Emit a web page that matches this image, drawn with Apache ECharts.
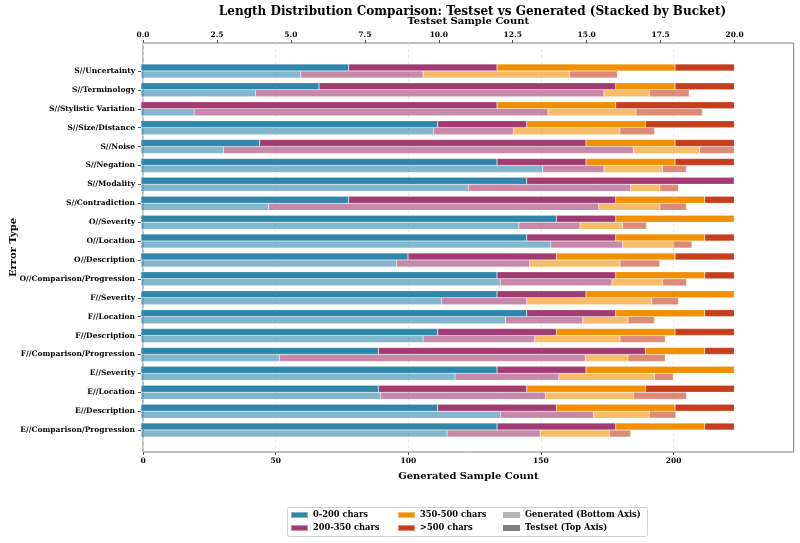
<!DOCTYPE html>
<html>
<head>
<meta charset="utf-8">
<script src="https://cdn.jsdelivr.net/npm/echarts@6/dist/echarts.min.js"></script>
<style>
  html, body { margin: 0; padding: 0; background: #fff; }
  #main { width: 800px; height: 543px; }
</style>
</head>
<body>
<div id="main"></div>
<script>
var categories = ['S//Uncertainty', 'S//Terminology', 'S//Stylistic Variation', 'S//Size/Distance',
    'S//Noise', 'S//Negation', 'S//Modality', 'S//Contradiction',
    'O//Severity', 'O//Location', 'O//Description', 'O//Comparison/Progression',
    'F//Severity', 'F//Location', 'F//Description', 'F//Comparison/Progression',
    'E//Severity', 'E//Location', 'E//Description', 'E//Comparison/Progression'];
var buckets = ['0-200 chars', '200-350 chars', '350-500 chars', '>500 chars'];

// testset counts per bucket (top axis)
var test0 = [7, 6, 0, 10, 4, 12, 13, 7, 14, 13, 9, 12, 12, 13, 10, 8, 12, 8, 10, 12];
var test1 = [5, 10, 12, 3, 11, 3, 7, 9, 2, 3, 5, 4, 3, 3, 4, 9, 3, 5, 4, 4];
var test2 = [6, 2, 4, 4, 3, 3, 0, 3, 4, 3, 4, 3, 5, 3, 4, 2, 5, 4, 4, 3];
var test3 = [2, 2, 4, 3, 2, 2, 0, 1, 0, 1, 2, 1, 0, 1, 2, 1, 0, 3, 2, 1];

// generated counts per bucket (bottom axis)
var gen0 = [60, 43, 20, 110, 31, 151, 123, 48, 142, 154, 96, 135, 113, 137, 106, 52, 118, 90, 135, 115];
var gen1 = [46, 131, 133, 30, 154, 23, 61, 124, 23, 27, 50, 42, 32, 29, 42, 115, 39, 62, 35, 35];
var gen2 = [55, 17, 33, 40, 25, 22, 11, 23, 16, 19, 34, 19, 47, 17, 32, 16, 36, 33, 21, 26];
var gen3 = [18, 15, 25, 13, 13, 9, 7, 10, 9, 7, 15, 9, 10, 10, 17, 14, 7, 20, 10, 8];

var topTicks = [0, 2.5, 5, 7.5, 10, 12.5, 15, 17.5, 20];
var bottomTicks = [0, 50, 100, 150, 200];

var testData = [test0, test1, test2, test3];
var genData = [gen0, gen1, gen2, gen3];
var colors = ['#2E86AB', '#A23B72', '#F18F01', '#C73E1D'];
var font = 'DejaVu Serif';
var topMax = 22;
var bottomMax = 245.3;

var myChart = echarts.init(document.getElementById('main'));

var series = [];
for (var i = 0; i < 4; i++) {
    series.push({
        name: buckets[i],
        type: 'bar',
        stack: 'test',
        xAxisIndex: 3,
        yAxisIndex: 1,
        barWidth: 7,
        barGap: '0%',
        itemStyle: {color: colors[i], borderColor: 'rgba(255,255,255,0.4)', borderWidth: 0.5},
        data: testData[i]
    });
}
for (var i = 0; i < 4; i++) {
    series.push({
        name: buckets[i],
        type: 'bar',
        stack: 'gen',
        xAxisIndex: 2,
        yAxisIndex: 1,
        barWidth: 7,
        barGap: '0%',
        itemStyle: {color: colors[i], opacity: 0.6, borderColor: 'rgba(255,255,255,0.4)', borderWidth: 0.5},
        data: genData[i]
    });
}
// legend-only entries
series.push({name: 'Generated (Bottom Axis)', type: 'line', xAxisIndex: 0, yAxisIndex: 0, color: '#b3b3b3', data: []});
series.push({name: 'Testset (Top Axis)', type: 'line', xAxisIndex: 0, yAxisIndex: 0, color: '#808080', data: []});

var legendBase = {
    orient: 'vertical',
    top: 510,
    padding: 0,
    icon: 'rect',
    itemWidth: 17,
    itemHeight: 6,
    itemGap: 3,
    selectedMode: false,
    textStyle: {fontFamily: font, fontWeight: 'bold', fontSize: 8.3, color: '#000', lineHeight: 10}
};

var option = {
    animation: false,
    title: {
        text: 'Length Distribution Comparison: Testset vs Generated (Stacked by Bucket)',
        left: 467.5,
        textAlign: 'center',
        top: 1,
        textStyle: {fontFamily: font, fontWeight: 'bold', fontSize: 12, color: '#000'}
    },
    graphic: [{
        type: 'rect',
        left: 287,
        top: 507,
        z: 0,
        shape: {width: 360, height: 29, r: 2},
        style: {fill: '#fff', stroke: '#d0d0d0', lineWidth: 1}
    }],
    legend: [
        Object.assign({}, legendBase, {left: 290, data: [buckets[0], buckets[1]]}),
        Object.assign({}, legendBase, {left: 397, data: [buckets[2], buckets[3]]}),
        Object.assign({}, legendBase, {left: 503, data: ['Generated (Bottom Axis)', 'Testset (Top Axis)']})
    ],
    grid: [
        {left: 141, right: 6.3, top: 43, bottom: 91, show: true, borderColor: '#808080', borderWidth: 1, containLabel: false},
        {left: 141, right: 6.3, top: 61.5, bottom: 103.5, containLabel: false}
    ],
    xAxis: [
        {
            gridIndex: 0, type: 'value', position: 'bottom', min: 0, max: bottomMax, interval: 50,
            name: 'Generated Sample Count', nameLocation: 'middle', nameGap: 19,
            nameTextStyle: {fontFamily: font, fontWeight: 'bold', fontSize: 10, color: '#000'},
            axisLine: {show: false},
            axisTick: {show: true, length: 3, lineStyle: {color: '#555'}, customValues: bottomTicks},
            axisLabel: {fontFamily: font, fontWeight: 'bold', fontSize: 7.5, color: '#000', margin: 5, customValues: bottomTicks},
            splitLine: {show: true, lineStyle: {color: '#e6e6e6', type: [3, 3], width: 0.8}}
        },
        {
            gridIndex: 0, type: 'value', position: 'top', min: 0, max: topMax, interval: 2.5,
            name: 'Testset Sample Count', nameLocation: 'middle', nameGap: 11,
            nameTextStyle: {fontFamily: font, fontWeight: 'bold', fontSize: 10, color: '#000'},
            axisLine: {show: false},
            axisTick: {show: true, length: 3, lineStyle: {color: '#555'}, customValues: topTicks},
            axisLabel: {
                fontFamily: font, fontWeight: 'bold', fontSize: 7.5, color: '#000', margin: 4,
                customValues: topTicks,
                formatter: function (v) { return v.toFixed(1); }
            },
            splitLine: {show: false}
        },
        {gridIndex: 1, type: 'value', position: 'bottom', min: 0, max: bottomMax, show: false},
        {gridIndex: 1, type: 'value', position: 'top', min: 0, max: topMax, show: false}
    ],
    yAxis: [
        {
            gridIndex: 0, type: 'value', min: 0, max: 1,
            name: 'Error Type', nameLocation: 'middle', nameGap: 125, nameRotate: 90,
            nameTextStyle: {fontFamily: font, fontWeight: 'bold', fontSize: 10, color: '#000'},
            axisLine: {show: false}, axisTick: {show: false}, axisLabel: {show: false}, splitLine: {show: false}
        },
        {
            gridIndex: 1, type: 'category', data: categories, inverse: true,
            axisLine: {show: false},
            axisTick: {show: true, alignWithLabel: true, length: 3, lineStyle: {color: '#555'}},
            axisLabel: {fontFamily: font, fontWeight: 'bold', fontSize: 7.5, color: '#000', margin: 6},
            splitLine: {show: false}
        }
    ],
    series: series
};
myChart.setOption(option);
</script>
</body>
</html>
